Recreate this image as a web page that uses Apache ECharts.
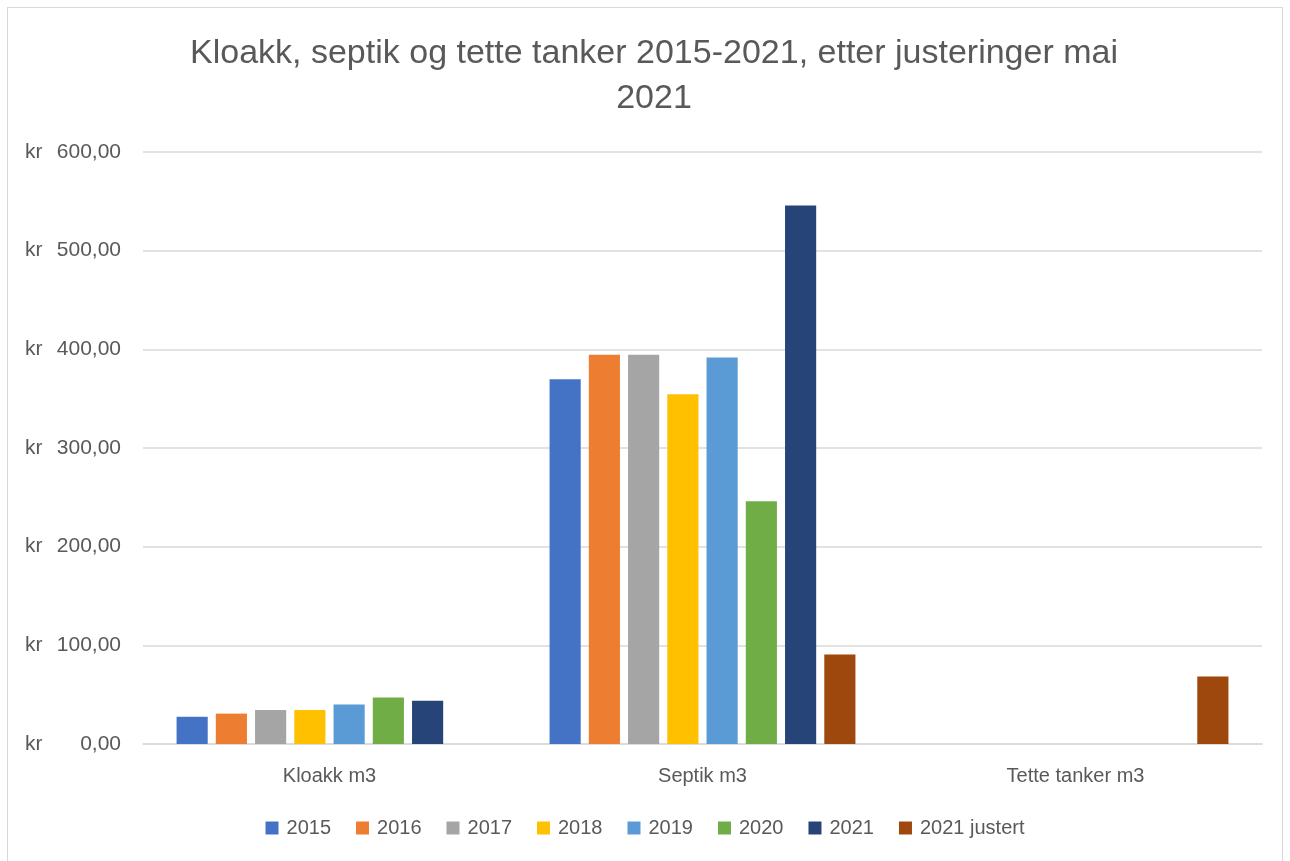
<!DOCTYPE html>
<html>
<head>
<meta charset="utf-8">
<title>Kloakk, septik og tette tanker</title>
<script src="https://cdn.jsdelivr.net/npm/echarts@6/dist/echarts.min.js"></script>
<style>
  html, body { margin: 0; padding: 0; background: #fff; }
  .frame {
    position: absolute;
    left: 7px;
    top: 7px;
    width: 1276px;
    height: 870px;
    border: 1px solid #d9d9d9;
    box-sizing: border-box;
  }
  #chart { position: absolute; left: 0; top: 0; width: 1290px; height: 861px; }
</style>
</head>
<body>
<div class="frame"></div>
<div id="chart"></div>
<script>
// kategorier og verdier (kr per m3), lest av figuren
const categories = ['Kloakk m3', 'Septik m3', 'Tette tanker m3']
const yearNames = ['2015', '2016', '2017', '2018', '2019', '2020', '2021', '2021 justert']
const v2015 = [27.6, 369.8, null]
const v2016 = [30.8, 394.5, null]
const v2017 = [34.4, 394.5, null]
const v2018 = [34.4, 354.5, null]
const v2019 = [40.1, 391.8, null]
const v2020 = [47.1, 246.1, null]
const v2021 = [43.8, 545.7, null]
const v2021j = [null, 90.7, 68.4]
const yTicks = [0, 100, 200, 300, 400, 500, 600]

const colors = ['#4472C4', '#ED7D31', '#A5A5A5', '#FFC000', '#5B9BD5', '#70AD47', '#264478', '#9E480E']
const seriesData = [v2015, v2016, v2017, v2018, v2019, v2020, v2021, v2021j]

const font = '"Liberation Sans", Arial, sans-serif'
const textColor = '#595959'

let chart = echarts.init(document.getElementById('chart'))

let series = seriesData.map((d, i) => ({
  name: yearNames[i],
  type: 'bar',
  data: d,
  barGap: '26%',
  barCategoryGap: '18%',
  itemStyle: { color: colors[i] }
}))

chart.setOption({
  animation: false,
  backgroundColor: 'rgba(0,0,0,0)',
  color: colors,
  title: {
    text: 'Kloakk, septik og tette tanker 2015-2021, etter justeringer mai\n2021',
    left: 649,
    textAlign: 'center',
    top: 26,
    textStyle: {
      fontFamily: font,
      fontWeight: 'normal',
      fontSize: 34,
      lineHeight: 45,
      color: textColor
    }
  },
  legend: {
    data: yearNames,
    bottom: 18,
    left: 'center',
    itemWidth: 13,
    itemHeight: 13,
    itemGap: 25,
    icon: 'rect',
    selectedMode: false,
    textStyle: { fontFamily: font, fontSize: 20, color: textColor, padding: [0, 0, 0, 3] }
  },
  grid: {
    left: 143,
    right: 28,
    top: 152,
    bottom: 117
  },
  xAxis: {
    type: 'category',
    data: categories,
    axisTick: { show: false },
    axisLine: { lineStyle: { color: '#d9d9d9', width: 1.5 } },
    axisLabel: {
      margin: 22,
      fontFamily: font,
      fontSize: 20,
      color: textColor
    }
  },
  yAxis: {
    type: 'value',
    min: yTicks[0],
    max: yTicks[yTicks.length - 1],
    interval: 100,
    axisLine: { show: false },
    axisTick: { show: false },
    splitLine: { lineStyle: { color: '#d9d9d9', width: 1.5 } },
    axisLabel: {
      margin: 22,
      formatter: function (v) {
        return '{kr|kr}{num|' + v.toFixed(2).replace('.', ',') + '}'
      },
      rich: {
        kr: { width: 30, align: 'left', fontFamily: font, fontSize: 21, color: textColor },
        num: { width: 66, align: 'right', fontFamily: font, fontSize: 21, color: textColor }
      }
    }
  },
  series: series
})
</script>
</body>
</html>
